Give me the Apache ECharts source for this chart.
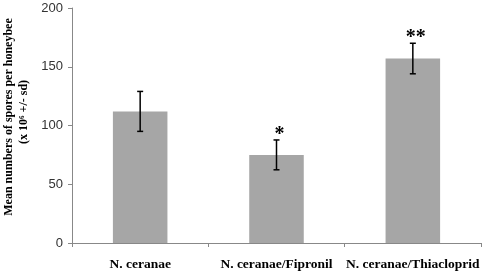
<!DOCTYPE html>
<html>
<head>
<meta charset="utf-8">
<script src="https://cdn.jsdelivr.net/npm/echarts@6/dist/echarts.min.js"></script>
<style>
  html, body { margin: 0; padding: 0; background: #fff; }
  #main { width: 485px; height: 274px; }
</style>
</head>
<body>
<div id="main"></div>
<script>
"use strict";

// values
const groups = ['N. ceranae', 'N. ceranae/Fipronil', 'N. ceranae/Thiacloprid'];
const means = [112, 75, 157];
const sds = [17, 12.7, 13];
const marks = ['', '*', '**'];
const yTicks = [0, 50, 100, 150, 200];

let myChart = echarts.init(document.getElementById('main'));

let errData = groups.map(function (g, i) {
  return [i, means[i] - sds[i], means[i] + sds[i], marks[i]];
});

let option = {
  animation: false,
  grid: {
    left: 72,
    right: 4,
    top: 8,
    bottom: 31,
  },
  xAxis: {
    type: 'category',
    data: groups,
    axisLine: { lineStyle: { color: '#888', width: 1 } },
    axisTick: { show: true, length: 4, lineStyle: { color: '#888' } },
    axisLabel: {
      interval: 0,
      margin: 15,
      color: '#000',
      fontFamily: 'Liberation Serif',
      fontWeight: 'bold',
      fontSize: 13.5,
    },
  },
  yAxis: {
    type: 'value',
    min: yTicks[0],
    max: yTicks[yTicks.length - 1],
    interval: 50,
    axisLine: { show: true, lineStyle: { color: '#888', width: 1 } },
    axisTick: { show: true, length: 4, lineStyle: { color: '#888' } },
    splitLine: { show: false },
    axisLabel: {
      margin: 9,
      color: '#333',
      fontFamily: 'Liberation Sans',
      fontSize: 13,
    },
  },
  graphic: [
    {
      type: 'text',
      x: 9,
      y: 117,
      rotation: Math.PI / 2,
      style: {
        text: 'Mean numbers of spores per honeybee',
        fill: '#000',
        font: 'bold 12px "Liberation Serif"',
        align: 'center',
        verticalAlign: 'middle',
      },
    },
    {
      type: 'text',
      x: 24,
      y: 112,
      rotation: Math.PI / 2,
      style: {
        text: '(x 10\u2076 +/- sd)',
        fill: '#000',
        font: 'bold 12px "Liberation Serif"',
        align: 'center',
        verticalAlign: 'middle',
      },
    },
  ],
  series: [
    {
      name: 'mean',
      type: 'bar',
      data: means,
      barWidth: '40%',
      itemStyle: { color: '#a6a6a6' },
    },
    {
      name: 'sd',
      type: 'custom',
      data: errData,
      z: 5,
      renderItem: function (params, api) {
        let x = api.value(0);
        let lo = api.coord([x, api.value(1)]);
        let hi = api.coord([x, api.value(2)]);
        let cap = 3;
        let st = { stroke: '#000', lineWidth: 1.5 };
        let children = [
          { type: 'line', shape: { x1: hi[0], y1: hi[1], x2: lo[0], y2: lo[1] }, style: st },
          { type: 'line', shape: { x1: hi[0] - cap, y1: hi[1], x2: hi[0] + cap, y2: hi[1] }, style: st },
          { type: 'line', shape: { x1: lo[0] - cap, y1: lo[1], x2: lo[0] + cap, y2: lo[1] }, style: st },
        ];
        let mk = api.value(3);
        if (mk) {
          children.push({
            type: 'text',
            x: hi[0] + 3,
            y: hi[1] + 5,
            style: {
              text: mk,
              fill: '#000',
              font: 'bold 20px "Liberation Serif"',
              align: 'center',
              verticalAlign: 'bottom',
            },
          });
        }
        return { type: 'group', children: children };
      },
    },
  ],
};

myChart.setOption(option);
</script>
</body>
</html>
